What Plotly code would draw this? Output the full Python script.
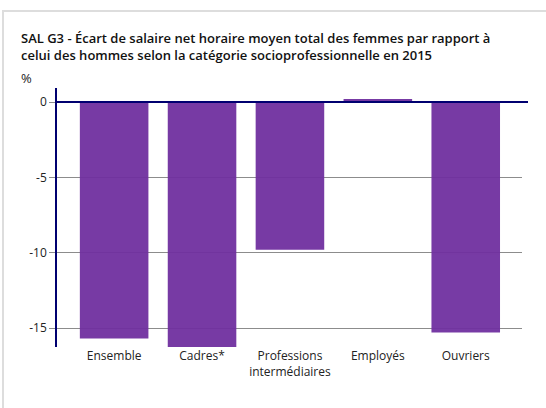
import plotly.graph_objects as go

categories = ['Ensemble', 'Cadres*', 'Professions<br>intermédiaires', 'Employés', 'Ouvriers']
ecart = [-15.7, -16.3, -9.8, 0.2, -15.3]
yticks = [0, -5, -10, -15]

PURPLE = '#7030a0'
NAVY = '#000070'
GRID = '#8c8c8c'
INK = '#222222'

fig = go.Figure()
fig.add_trace(go.Bar(x=categories, y=ecart, marker=dict(color=PURPLE, line=dict(width=0)),
                     opacity=0.95, width=0.78,
                     hovertemplate='%{x}: %{y:.1f} %<extra></extra>'))

fig.update_layout(
    width=546, height=408,
    paper_bgcolor='white', plot_bgcolor='white',
    font=dict(family='Open Sans, sans-serif', size=12, color=INK),
    margin=dict(l=57, r=24, t=88, b=61),
    showlegend=False,
)
fig.update_xaxes(range=[-0.65, 4.64], showgrid=False, showline=False, ticks='',
                 tickfont=dict(size=12, color=INK), fixedrange=True)
fig.update_yaxes(range=[-16.26, 0.93], tickvals=yticks, ticktext=[str(v) for v in yticks],
                 showgrid=True, gridcolor=GRID, gridwidth=1.3, zeroline=False,
                 showline=True, linecolor=NAVY, linewidth=1.5,
                 ticks='outside', ticklen=6, tickcolor=GRID, tickwidth=1.3,
                 tickfont=dict(size=12, color=INK), fixedrange=True)


def px_x(p):
    return (p - 57) / 465


def px_y(p):
    return (347 - p) / 259


# title as a left-aligned annotation (two lines)
fig.add_annotation(text='SAL G3 - Écart de salaire net horaire moyen total des femmes par rapport à<br>'
                        'celui des hommes selon la catégorie socioprofessionnelle en 2015',
                   xref='paper', yref='paper', x=px_x(19), y=px_y(27),
                   xanchor='left', yanchor='top', align='left', showarrow=False,
                   font=dict(size=13, color='#111111', family='Open Sans, sans-serif', weight=600))
fig.add_annotation(text='%', xref='paper', yref='paper', x=px_x(19), y=px_y(78),
                   xanchor='left', yanchor='middle', showarrow=False,
                   font=dict(size=13, color=INK))

# zero line, running a bit past the grid
fig.add_shape(type='line', xref='paper', yref='y', x0=0, x1=px_x(528), y0=0, y1=0,
              line=dict(color=NAVY, width=2), layer='above')

# card frame (left + top edges) drawn as a page overlay, not as a plot shape
FRAME_JS = """
document.documentElement.style.overflow='hidden';
document.body.style.overflow='hidden';
document.body.style.margin='0';
var f=document.createElement('div');
f.style.cssText='position:absolute;left:2px;top:10px;width:700px;height:700px;'+
  'border-left:2px solid #dddddd;border-top:2px solid #dddddd;pointer-events:none;';
document.body.appendChild(f);
"""

fig.write_html('out.html', config={'displayModeBar': False}, post_script=FRAME_JS)
